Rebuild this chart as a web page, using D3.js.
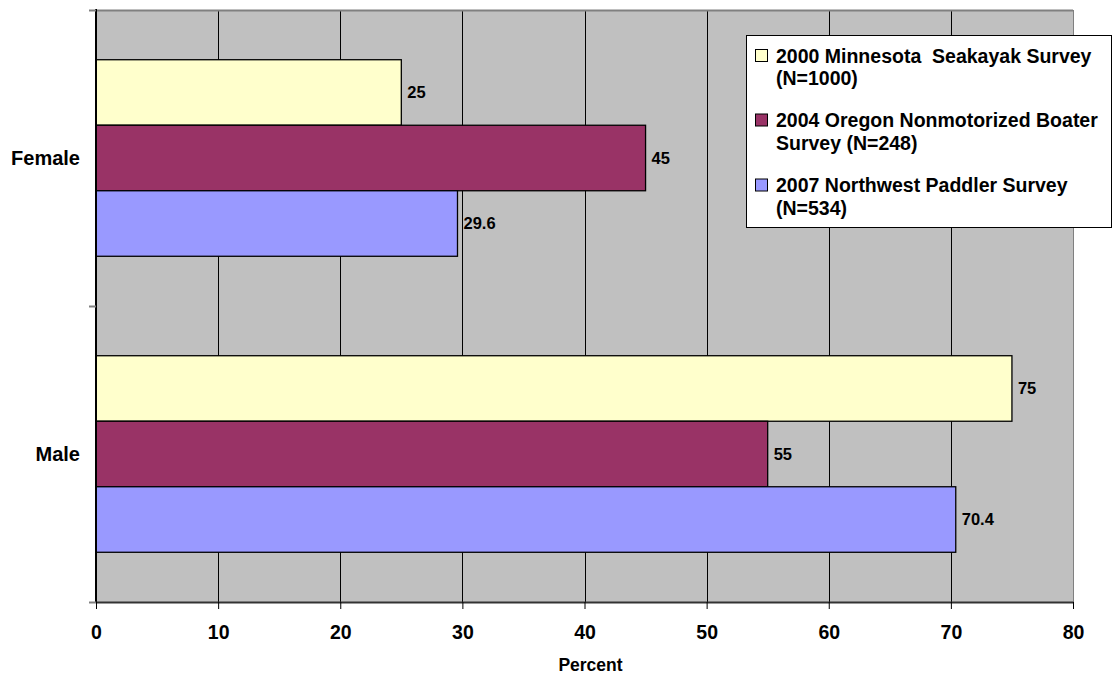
<!DOCTYPE html>
<html>
<head>
<meta charset="utf-8">
<script src="https://cdn.jsdelivr.net/npm/d3@7"></script>
<style>
  html, body { margin: 0; padding: 0; background: #fff; }
  svg { display: block; font-family: "Liberation Sans", Arial, sans-serif; font-weight: bold; }
</style>
</head>
<body>
<script>
const categories = ["Female", "Male"];
const seriesNames = [
  ["2000 Minnesota  Seakayak Survey", "(N=1000)"],
  ["2004 Oregon Nonmotorized Boater", "Survey (N=248)"],
  ["2007 Northwest Paddler Survey", "(N=534)"]
];
const seriesColors = ["#FFFFCC", "#993366", "#9999FF"];
const minnesota = [25, 75];
const oregon = [45, 55];
const northwest = [29.6, 70.4];
const xTicks = [0, 10, 20, 30, 40, 50, 60, 70, 80];
const xTitle = "Percent";

const seriesValues = [minnesota, oregon, northwest];

const W = 1113, H = 678;
const L = 96, R = 1073, T = 10, B = 602;

const svg = d3.select("body").append("svg").attr("width", W).attr("height", H);

const x = d3.scaleLinear().domain([0, 80]).range([L, R]);
const y = d3.scaleBand().domain(categories).range([T, B]).padding(0);
const bw = y.bandwidth();
const inner = d3.scaleBand().domain(d3.range(seriesValues.length))
  .range([bw * 0.168, bw * 0.832]).padding(0);

// plot background
svg.append("rect").attr("x", L).attr("y", T).attr("width", R - L).attr("height", B - T)
  .attr("fill", "#C0C0C0");

// gridlines
svg.append("g").selectAll("line").data(xTicks.filter(d => d > 0 && d < 80)).join("line")
  .attr("x1", d => Math.round(x(d)) + 0.5).attr("x2", d => Math.round(x(d)) + 0.5)
  .attr("y1", T).attr("y2", B).attr("stroke", "#000").attr("stroke-width", 1);

// plot border top/right gray
svg.append("line").attr("x1", L).attr("x2", R).attr("y1", T + 0.5).attr("y2", T + 0.5)
  .attr("stroke", "#808080").attr("stroke-width", 2);
svg.append("line").attr("x1", R + 0.5).attr("x2", R + 0.5).attr("y1", T).attr("y2", B)
  .attr("stroke", "#808080").attr("stroke-width", 1);

// bars
const groups = svg.append("g").selectAll("g").data(categories).join("g")
  .attr("transform", d => `translate(0,${y(d)})`);
groups.each(function(cat, ci) {
  const g = d3.select(this);
  seriesValues.forEach((vals, si) => {
    const v = vals[ci];
    g.append("rect")
      .attr("x", x(0)).attr("y", inner(si))
      .attr("width", x(v) - x(0)).attr("height", inner.bandwidth())
      .attr("fill", seriesColors[si]).attr("stroke", "#000").attr("stroke-width", 1.3);
    g.append("text")
      .attr("x", x(v) + 6).attr("y", inner(si) + inner.bandwidth() / 2)
      .attr("dy", "0.35em").attr("font-size", 16.5).attr("fill", "#000")
      .text(v);
  });
});

// y axis line
svg.append("line").attr("x1", L).attr("x2", L).attr("y1", T - 1).attr("y2", B + 1)
  .attr("stroke", "#000").attr("stroke-width", 2);
// y ticks (category boundaries)
svg.append("g").selectAll("line").data([T, y("Male"), B]).join("line")
  .attr("x1", 89).attr("x2", L).attr("y1", d => d + 0.5).attr("y2", d => d + 0.5)
  .attr("stroke", "#808080").attr("stroke-width", 2);
// category labels
svg.append("g").selectAll("text").data(categories).join("text")
  .attr("x", 80).attr("y", d => y(d) + bw / 2).attr("dy", "0.35em")
  .attr("text-anchor", "end").attr("font-size", 20).text(d => d);

// x axis
const xAxis = d3.axisBottom(x).tickValues(xTicks).tickSize(7).tickPadding(16).tickSizeOuter(0);
const gx = svg.append("g").attr("transform", `translate(0,${B})`).call(xAxis);
gx.select(".domain").attr("stroke", "#333").attr("stroke-width", 2);
gx.selectAll(".tick line").attr("stroke", "#000").attr("stroke-width", 1);
gx.selectAll(".tick text").attr("font-size", 19.5).attr("font-weight", "bold")
  .attr("font-family", "Liberation Sans, Arial, sans-serif").attr("fill", "#000");

svg.append("text").attr("x", (L + R) / 2 + 6).attr("y", 665).attr("dy", "0.35em")
  .attr("text-anchor", "middle").attr("font-size", 17.5).text(xTitle);

// legend
const lg = svg.append("g");
lg.append("rect").attr("x", 746.5).attr("y", 35.5).attr("width", 365).attr("height", 192)
  .attr("fill", "#fff").attr("stroke", "#000").attr("stroke-width", 1);
const itemY = [56, 120.5, 185.5];
seriesNames.forEach((lines, i) => {
  lg.append("rect").attr("x", 755.5).attr("y", itemY[i] - 6.5).attr("width", 12).attr("height", 12)
    .attr("fill", seriesColors[i]).attr("stroke", "#000").attr("stroke-width", 1);
  lines.forEach((t, j) => {
    lg.append("text").attr("x", 776).attr("y", itemY[i] + j * 22.5).attr("dy", "0.35em")
      .attr("font-size", 19.5).attr("xml:space", "preserve").style("white-space", "pre").text(t);
  });
});
</script>
</body>
</html>
